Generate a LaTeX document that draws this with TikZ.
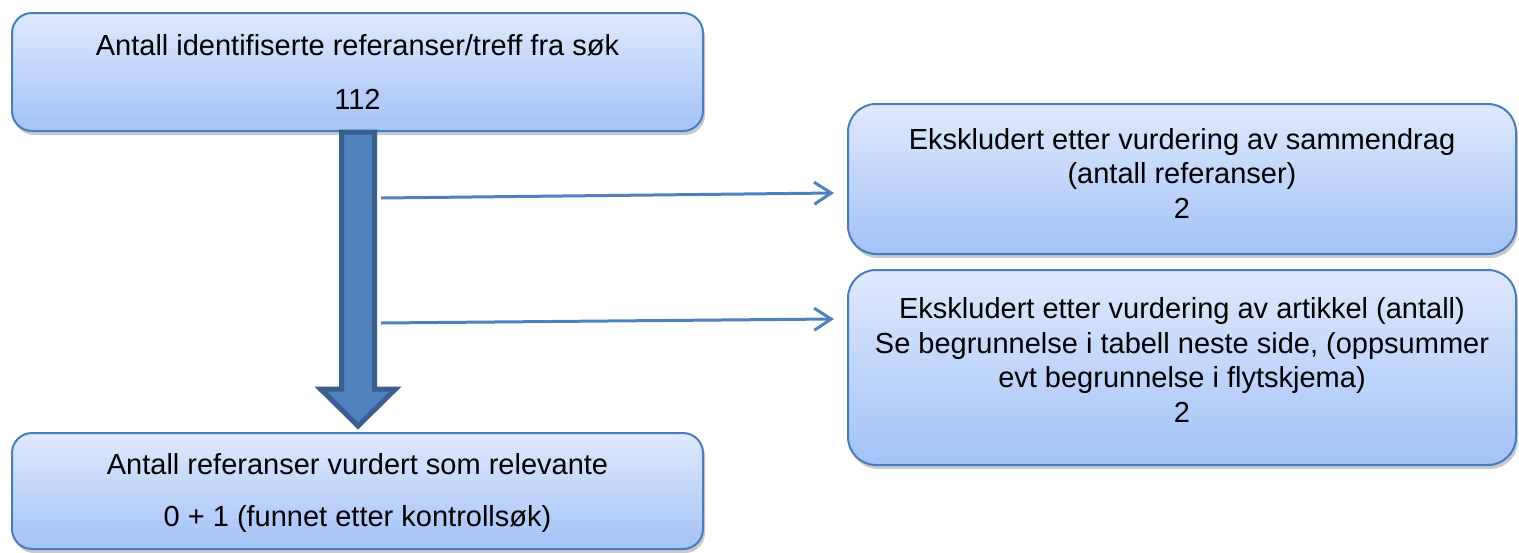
\documentclass[tikz,border=0pt]{standalone}
\usepackage{fontspec}
\setmainfont{Liberation Sans}
\usetikzlibrary{arrows.meta,calc,shadows}
\definecolor{boxtop}{HTML}{DFE9FC}
\definecolor{boxbot}{HTML}{A3C2F8}
\definecolor{boxline}{HTML}{4A7EBB}
\definecolor{arrfill}{HTML}{4F81BD}
\definecolor{arrline}{HTML}{3A5F8E}
\tikzset{
  flowbox/.style={rectangle, draw=boxline, line width=2pt, top color=boxtop, bottom color=boxbot,
    inner sep=0pt,
    drop shadow={shadow xshift=2pt, shadow yshift=-4pt, opacity=0.3, fill=black!70}},
  boxtext/.style={align=center, inner sep=0pt, font=\fontsize{29}{34.5}\selectfont},
  thinarrow/.style={draw=arrfill, line width=3pt, -{Straight Barb[length=17pt,width=22pt,line width=3pt]}},
  bigarrow/.style={fill=arrfill, draw=arrline, line width=5pt, line join=miter},
}
\begin{document}
\begin{tikzpicture}[x=1pt,y=-1pt]
\useasboundingbox (0,0) rectangle (1519,552);
% left boxes
\node[flowbox, rounded corners=20pt, minimum width=691pt, minimum height=118pt] (top) at (357.5,72) {};
\node[boxtext] (toptext) at ($(top.center)+(0,0)$)
  {Antall identifiserte referanser/treff fra søk\\[19pt]112};
\node[flowbox, rounded corners=20pt, minimum width=691pt, minimum height=116pt] (bot) at (357.5,491) {};
\node[boxtext] (bottext) at ($(bot.center)+(0,2)$)
  {Antall referanser vurdert som relevante\\[17pt]0 + 1 (funnet etter kontrollsøk)};
% right boxes
\node[flowbox, rounded corners=28pt, minimum width=668pt, minimum height=150pt] (r1) at (1182,179) {};
\node[boxtext] (r1text) at ($(r1.center)+(0,-6)$)
  {Ekskludert etter vurdering av sammendrag\\(antall referanser)\\2};
\node[flowbox, rounded corners=28pt, minimum width=668pt, minimum height=195pt] (r2) at (1182,367.5) {};
\node[boxtext] (r2text) at ($(r2.center)+(0,-7.5)$)
  {Ekskludert etter vurdering av artikkel (antall)\\Se begrunnelse i tabell neste side, (oppsummer\\evt begrunnelse i flytskjema)\\2};
% big downward arrow
\coordinate (as) at ($(top.south)+(0.5,0)$);
\coordinate (at) at ($(bot.north)+(0.5,-6)$);
\draw[bigarrow] ($(as)+(-16.5,0)$) -- ($(as)+(16.5,0)$) -- ($(at)+(16.5,-37)$) -- ($(at)+(37.5,-37)$)
  -- (at) -- ($(at)+(-37.5,-37)$) -- ($(at)+(-16.5,-37)$) -- cycle;
% thin arrows
\coordinate (s1) at (381,198);
\coordinate (s2) at (381,323);
\draw[thinarrow] (s1) -- ($(r1.west)+(-13,14)$);
\draw[thinarrow] (s2) -- ($(r2.west)+(-13,-48.5)$);
\end{tikzpicture}
\end{document}
